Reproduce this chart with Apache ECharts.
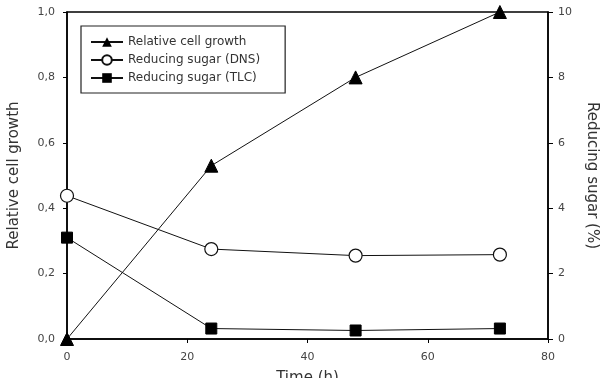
<!DOCTYPE html>
<html><head><meta charset="utf-8">
<script src="https://cdn.jsdelivr.net/npm/echarts@6/dist/echarts.min.js"></script>
<style>html,body{margin:0;padding:0;background:#fff}#c{width:605px;height:378px}</style>
</head><body><div id="c"></div>
<script>
const time = [0, 24, 48, 72];
const cellGrowth = [0.0, 0.53, 0.80, 1.0];
const sugarDNS = [4.38, 2.75, 2.55, 2.58];
const sugarTLC = [3.1, 0.32, 0.26, 0.32];
const seriesNames = ['Relative cell growth', 'Reducing sugar (DNS)', 'Reducing sugar (TLC)'];

const font = 'DejaVu Sans';
const chart = echarts.init(document.getElementById('c'));
const pairs = (ys) => time.map((t, i) => [t, ys[i]]);
const lineStyle = {color: '#111', width: 1};
chart.setOption({
  animation: false,
  textStyle: {fontFamily: font},
  grid: {left: 67, right: 57, top: 12, bottom: 39, show: true, borderColor: '#000', borderWidth: 1.5,
         containLabel: false, outerBoundsMode: 'none'},
  legend: {
    orient: 'vertical', left: 81, top: 26,
    padding: [10, 25, 9, 9], itemGap: 6, itemWidth: 32, itemHeight: 12,
    borderColor: '#222', borderWidth: 1.2,
    textStyle: {fontFamily: font, fontSize: 12, color: '#333'},
    data: seriesNames
  },
  xAxis: {
    type: 'value', min: 0, max: 80, interval: 20,
    name: 'Time (h)', nameLocation: 'middle', nameGap: 32,
    nameTextStyle: {fontFamily: font, fontSize: 15, color: '#333'},
    axisLine: {lineStyle: {color: '#000', width: 1.5}},
    axisTick: {show: true, inside: false, length: 4, lineStyle: {color: '#000'}},
    axisLabel: {fontSize: 11, color: '#444', margin: 13},
    splitLine: {show: false}
  },
  yAxis: [{
    type: 'value', min: 0, max: 1, interval: 0.2, position: 'left',
    name: 'Relative cell growth', nameLocation: 'middle', nameGap: 45, nameRotate: 90,
    nameTextStyle: {fontFamily: font, fontSize: 15, color: '#333'},
    axisLine: {show: true, lineStyle: {color: '#000', width: 1.5}},
    axisTick: {show: true, length: 4, lineStyle: {color: '#000'}},
    axisLabel: {fontSize: 11, color: '#444', margin: 12, formatter: v => v.toFixed(1).replace('.', ',')},
    splitLine: {show: false}
  }, {
    type: 'value', min: 0, max: 10, interval: 2, position: 'right',
    name: 'Reducing sugar (%)', nameLocation: 'middle', nameGap: 36, nameRotate: -90,
    nameTextStyle: {fontFamily: font, fontSize: 15, color: '#333'},
    axisLine: {show: true, lineStyle: {color: '#000', width: 1.5}},
    axisTick: {show: true, length: 5, lineStyle: {color: '#000'}},
    axisLabel: {fontSize: 11, color: '#444', margin: 10},
    splitLine: {show: false}
  }],
  series: [{
    name: seriesNames[0], type: 'line', yAxisIndex: 0, data: pairs(cellGrowth),
    symbol: 'triangle', symbolSize: 13, lineStyle: lineStyle,
    itemStyle: {color: '#000', borderColor: '#000'}
  }, {
    name: seriesNames[1], type: 'line', yAxisIndex: 1, data: pairs(sugarDNS),
    symbol: 'circle', symbolSize: 13, lineStyle: lineStyle,
    itemStyle: {color: '#fff', borderColor: '#111', borderWidth: 1.2}
  }, {
    name: seriesNames[2], type: 'line', yAxisIndex: 1, data: pairs(sugarTLC),
    symbol: 'rect', symbolSize: 11, lineStyle: lineStyle,
    itemStyle: {color: '#000', borderColor: '#000'}
  }]
});
</script></body></html>
